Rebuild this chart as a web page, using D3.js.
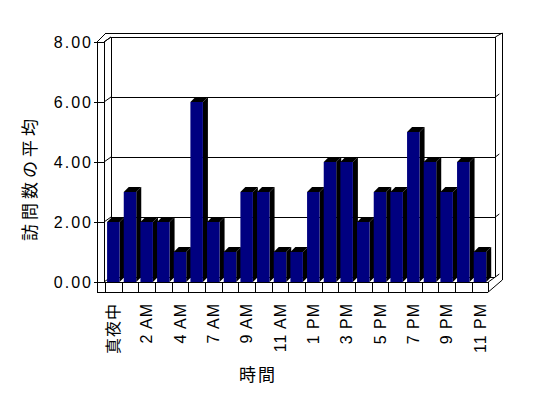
<!DOCTYPE html>
<meta charset="utf-8">
<head>
  <script src="https://d3js.org/d3.v7.min.js"></script>
  <style>
    body { margin: 0; background: #fff; }
    text { font-family: "Liberation Sans", "Noto Sans CJK JP", sans-serif; fill: #000; }
  </style>
</head>
<body>
<script>
// hours (one hour is missing in the source data)
const hours = ["真夜中", "1 AM", "2 AM", "3 AM", "4 AM", "5 AM", "7 AM", "8 AM", "9 AM", "10 AM", "11 AM", "正午",
  "1 PM", "2 PM", "3 PM", "4 PM", "5 PM", "6 PM", "7 PM", "8 PM", "9 PM", "10 PM", "11 PM"];
const visits = [2, 3, 2, 2, 1, 6, 2, 1, 3, 3, 1, 1, 3, 4, 4, 2, 3, 3, 5, 4, 3, 4, 1];
const yTicks = [0, 2, 4, 6, 8];
const xTitle = "時間";
const yTitle = "訪問数の平均";

const W = 548, H = 398;
const svg = d3.select("body").append("svg").attr("width", W).attr("height", H);

const x = d3.scaleBand().domain(hours).range([105, 488.3]).paddingInner(0.25).paddingOuter(0.125);
const y = d3.scaleLinear().domain([0, 8]).range([282, 42]);

// depth offsets
const wall = {dx: 7, dy: -5};   // front plane -> back wall
const bar = {dx: 5, dy: -5};    // bar depth
const xl = 104, xr = 488.3, xb = xl + wall.dx, xbr = xr + wall.dx;

const g = svg.append("g").attr("fill", "none").attr("stroke", "#000").attr("stroke-width", 1)
  .attr("shape-rendering", "crispEdges");

function line(x1, y1, x2, y2, sr) {
  g.append("line").attr("x1", x1).attr("y1", y1).attr("x2", x2).attr("y2", y2)
    .attr("shape-rendering", sr || "crispEdges");
}

const yTop = y(8), y0 = y(0);
// back wall
line(xb, yTop + wall.dy, xbr, yTop + wall.dy);
line(xbr, yTop + wall.dy, xbr, y0 + wall.dy);
line(xb, yTop + wall.dy, xb, y0 + wall.dy);
line(106, 33, xbr + 7, 33);
line(xbr + 7, 33, xbr + 7, y0 - 2);
line(xbr, yTop + wall.dy, xbr + 7, 33, "auto");
// left slab
line(97, yTop, 97, 292);
line(xl, yTop, xl, 282);
line(97, yTop, xl, yTop);
line(97, yTop, 106, 33, "auto");
line(xl, yTop, xb, yTop + wall.dy, "auto");

// gridlines + ticks
yTicks.forEach(v => {
  const yy = y(v);
  line(94, yy, xl, yy);
  line(xl, yy, xb, yy + wall.dy, "auto");
  if (v > 0) line(xb, yy + wall.dy, xbr, yy + wall.dy);
  if (v < 8) line(xbr, yy + wall.dy, xbr + 4, yy + wall.dy - 3, "auto");
});

// floor
line(xb, y0 + wall.dy, xbr, y0 + wall.dy);
line(xl, y0, xr, y0);
line(97, 292, xr, 292);
line(xr, y0, xbr, y0 + wall.dy, "auto");
line(xr, 292, xbr + 7, y0 - 2, "auto");
const step = x.step();
d3.range(hours.length + 1).forEach(i => {
  const xx = Math.round(105 + i * step);
  line(xx, y0, xx, 292);
});

// bars
const bars = svg.append("g");
hours.forEach((h, i) => {
  const x0 = x(h), x1 = x(h) + x.bandwidth(), yt = y(visits[i]);
  bars.append("path")
    .attr("d", `M${x1},${yt}L${x1 + bar.dx},${yt + bar.dy}L${x1 + bar.dx},${y0 + bar.dy}L${x1},${y0}Z`)
    .attr("fill", "#000");
  bars.append("path")
    .attr("d", `M${x0},${yt}L${x0 + bar.dx},${yt + bar.dy}L${x1 + bar.dx},${yt + bar.dy}L${x1},${yt}Z`)
    .attr("fill", "#000");
  bars.append("rect")
    .attr("x", x0).attr("y", yt).attr("width", x.bandwidth()).attr("height", y0 - yt)
    .attr("fill", "#000080");
});

// y tick labels
svg.append("g").selectAll("text").data(yTicks).join("text")
  .attr("x", 93).attr("y", d => y(d)).attr("dy", "0.35em")
  .attr("text-anchor", "end").attr("font-size", 16).attr("letter-spacing", 2)
  .text(d3.format(".2f"));

// x tick labels (every other)
svg.append("g").selectAll("text").data(hours.filter((d, i) => i % 2 === 0)).join("text")
  .attr("transform", d => `translate(${x(d) + x.bandwidth() / 2},303) rotate(-90)`)
  .attr("dy", "0.35em").attr("text-anchor", "end").attr("font-size", 16).attr("letter-spacing", 1)
  .text(d => d);

// axis titles
svg.append("text").attr("x", 258).attr("y", 375).attr("dy", "0.35em")
  .attr("text-anchor", "middle").attr("font-size", 17).attr("letter-spacing", 2).text(xTitle);
svg.append("text").attr("transform", "translate(30,178) rotate(-90)")
  .attr("dy", "0.35em").attr("text-anchor", "middle").attr("font-size", 17).attr("letter-spacing", 4)
  .text(yTitle);
</script>
</body>
</html>
